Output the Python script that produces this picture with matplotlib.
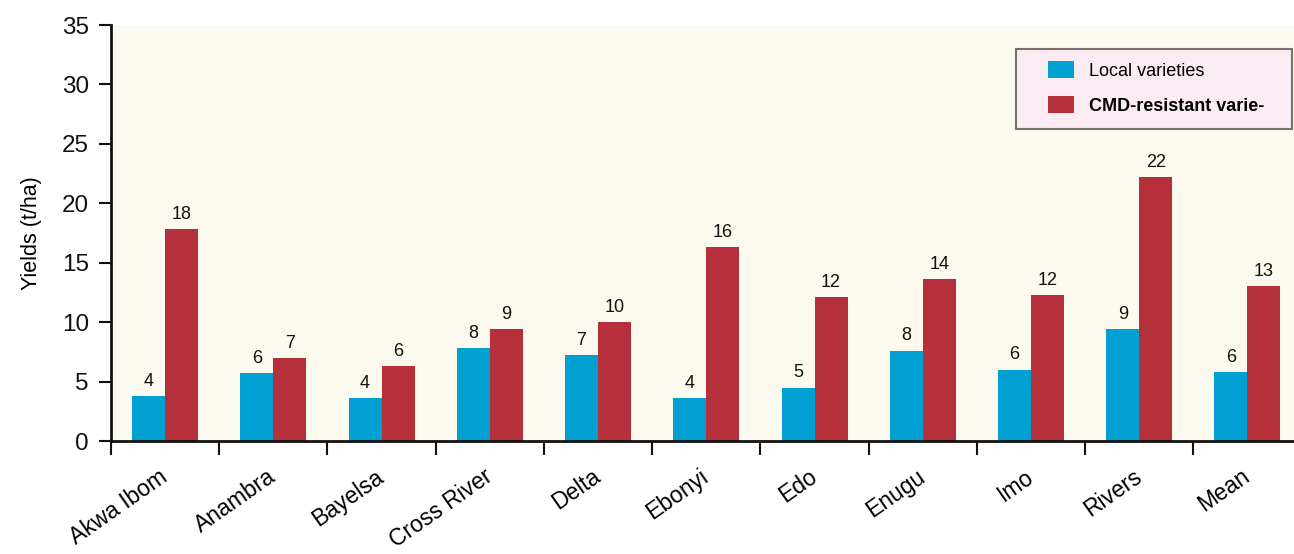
import matplotlib
matplotlib.use("Agg")
import matplotlib.pyplot as plt
import matplotlib.transforms as mtransforms
from matplotlib.patches import Rectangle
import numpy as np

plt.rcParams['font.family'] = ['Liberation Sans', 'DejaVu Sans']

categories = ["Akwa Ibom", "Anambra", "Bayelsa", "Cross River", "Delta", "Ebonyi",
              "Edo", "Enugu", "Imo", "Rivers", "Mean"]
local_vals = [3.8, 5.7, 3.6, 7.8, 7.2, 3.6, 4.5, 7.6, 6.0, 9.4, 5.8]
cmd_vals = [17.8, 7.0, 6.3, 9.4, 10.0, 16.3, 12.1, 13.6, 12.3, 22.2, 13.0]
local_labels = ["4", "6", "4", "8", "7", "4", "5", "8", "6", "9", "6"]
cmd_labels = ["18", "7", "6", "9", "10", "16", "12", "14", "12", "22", "13"]
yticks = [0, 5, 10, 15, 20, 25, 30, 35]

blue = "#00A0D2"
red = "#B5303A"

W, H = 1294, 554
fig = plt.figure(figsize=(W / 100, H / 100), dpi=100)
ax = fig.add_axes([111 / W, 1 - 441 / H, 1 - 111 / W, (441 - 25) / H])
ax.set_facecolor("#FCFAEE")

x = np.arange(len(categories))
w = 0.305
b1 = ax.bar(x - w / 2, local_vals, width=w, color=blue, label="Local varieties")
b2 = ax.bar(x + w / 2, cmd_vals, width=w, color=red, label="CMD-resistant varie-")

for bars, labs in ((b1, local_labels), (b2, cmd_labels)):
    for rect, lab in zip(bars, labs):
        ax.annotate(lab, (rect.get_x() + rect.get_width() / 2, rect.get_height()),
                    xytext=(0, 4.5), textcoords="offset points", ha="center",
                    va="bottom", fontsize=13, color="#111111")

ax.set_xlim(-0.5, 10.43)
ax.set_ylim(0, 35)
ax.set_yticks(yticks)
ax.set_yticklabels([str(t) for t in yticks], fontsize=17.5)
ax.tick_params(axis="y", direction="out", length=9, width=1.5, pad=7,
               colors="#111111")

# boundary ticks on x axis
ax.set_xticks(np.arange(-0.5, 10.0, 1.0))
ax.set_xticklabels([])
ax.tick_params(axis="x", which="major", direction="out", length=10, width=1.5,
               colors="#111111")
ax.set_xticks(x, minor=True)
ax.set_xticklabels(categories, minor=True, rotation=35, ha="right", va="center",
                   rotation_mode="anchor", fontsize=16.5)
ax.tick_params(axis="x", which="minor", length=0, pad=24)

for s in ["top", "right"]:
    ax.spines[s].set_visible(False)
for s in ["left", "bottom"]:
    ax.spines[s].set_linewidth(2)
    ax.spines[s].set_color("#111111")

ax.set_ylabel("Yields (t/ha)", fontsize=15.5, labelpad=14)

# legend box
fig.patches.append(Rectangle((1016 / W, 1 - 129 / H), 276 / W, 80 / H,
                             transform=fig.transFigure, facecolor="#FBEBF3",
                             edgecolor="#7A716A", linewidth=1.5, zorder=5))
leg = fig.legend(loc="upper left", bbox_to_anchor=(1048 / W, 1 - 61 / H),
                 bbox_transform=fig.transFigure, fontsize=13, frameon=False,
                 handlelength=1.45, handleheight=1.1, borderpad=0,
                 labelspacing=0.9, handletextpad=0.8, borderaxespad=0)
leg.set_zorder(6)
leg.get_texts()[1].set_fontweight("bold")

fig.savefig("out.png", dpi=100)
